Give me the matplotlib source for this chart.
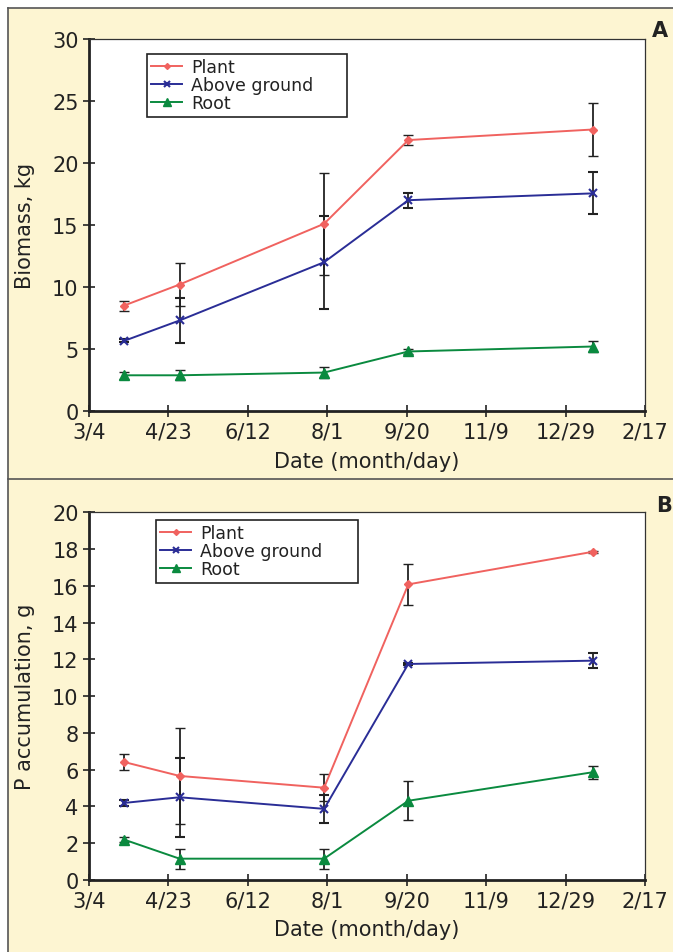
import matplotlib
matplotlib.use("Agg")
import matplotlib.pyplot as plt
from matplotlib.patches import Rectangle
from matplotlib.lines import Line2D

plt.rcParams['font.family'] = ['DejaVu Sans']

# days counted from 3/4
days = [22, 57, 148, 201, 317]
tick_days = [0, 50, 100, 150, 200, 250, 300, 350]
tick_labels = ["3/4", "4/23", "6/12", "8/1", "9/20", "11/9", "12/29", "2/17"]
series = ["Plant", "Above ground", "Root"]

# panel A: biomass, kg
bio_plant = [8.5, 10.2, 15.1, 21.85, 22.7]
bio_plant_err = [0.4, 1.75, 4.1, 0.4, 2.1]
bio_above = [5.65, 7.3, 12.0, 17.0, 17.55]
bio_above_err = [0.12, 1.8, 3.75, 0.6, 1.7]
bio_root = [2.88, 2.88, 3.1, 4.8, 5.2]
bio_root_err = [0.3, 0.42, 0.43, 0.22, 0.43]

# panel B: P accumulation, g
p_plant = [6.42, 5.66, 5.02, 16.08, 17.85]
p_plant_err = [0.45, 2.6, 0.75, 1.1, 0.05]
p_above = [4.19, 4.5, 3.87, 11.75, 11.93]
p_above_err = [0.15, 2.15, 0.75, 0.08, 0.4]
p_root = [2.2, 1.16, 1.16, 4.31, 5.86]
p_root_err = [0.15, 0.55, 0.55, 1.07, 0.35]

colors = ['#f0625f', '#2a2d96', '#0a8a3f']
markers = ['D', 'x', '^']
msizes = [4, 6, 7]
txt = '#222222'

W, H = 673, 953
fig = plt.figure(figsize=(W / 100, H / 100), dpi=100)
fig.patch.set_facecolor('white')

# cream panel background with frame lines
fig.patches.append(Rectangle((8 / W, 0), 1 - 8 / W, (H - 9) / H, transform=fig.transFigure,
                             facecolor='#fdf5d2', edgecolor='none', zorder=-5))
fig.lines.append(Line2D([8 / W, 8 / W], [0, (H - 9) / H], transform=fig.transFigure, color='#555555', lw=1.2, zorder=-4))
fig.lines.append(Line2D([8 / W, 1], [(H - 9) / H, (H - 9) / H], transform=fig.transFigure, color='#555555', lw=1.2, zorder=-4))
fig.lines.append(Line2D([8 / W, 1], [(H - 480) / H, (H - 480) / H], transform=fig.transFigure, color='#555555', lw=1.2, zorder=-4))

axA = fig.add_axes([89 / W, (H - 412) / H, 556 / W, 372 / H])
axB = fig.add_axes([89 / W, (H - 881) / H, 556 / W, 367.7 / H])

panels = [
    (axA, [bio_plant, bio_above, bio_root], [bio_plant_err, bio_above_err, bio_root_err],
     30, 5, "Biomass, kg", (0.104, 0.96, 0.36, 0)),
    (axB, [p_plant, p_above, p_root], [p_plant_err, p_above_err, p_root_err],
     20, 2, "P accumulation, g", (0.12, 0.979, 0.363, 0)),
]

for ax, vals, errs, ymax, ystep, ylab, legbox in panels:
    ax.set_facecolor('white')
    handles = []
    for name, v, e, c, m, ms in zip(series, vals, errs, colors, markers, msizes):
        mew = 1.5 if m == 'x' else 1
        ax.errorbar(days, v, yerr=e, color=c, marker=m, markersize=ms, lw=1.4,
                    ecolor=txt, elinewidth=1.3, capsize=3.3, capthick=1.3,
                    markeredgewidth=mew)
        handles.append(Line2D([], [], color=c, marker=m, markersize=ms - 1, lw=1.4,
                              markeredgewidth=mew, label=name))
    ax.set_xlim(0, 350)
    ax.set_ylim(0, ymax)
    ax.set_xticks(tick_days)
    ax.set_xticklabels(tick_labels)
    ax.set_yticks(range(0, ymax + 1, ystep))
    ax.tick_params(direction='inout', length=9, width=1.2, labelsize=15, colors=txt, pad=3)
    for s in ['left', 'bottom']:
        ax.spines[s].set_linewidth(2)
        ax.spines[s].set_color(txt)
    for s in ['top', 'right']:
        ax.spines[s].set_linewidth(0.9)
        ax.spines[s].set_color('#333333')
    ax.set_ylabel(ylab, fontsize=15, color=txt)
    ax.yaxis.set_label_coords(-0.097, 0.5)
    ax.set_xlabel("Date (month/day)", fontsize=15, color=txt, va='top')
    ax.xaxis.set_label_coords(0.5, -0.107)
    leg = ax.legend(handles=handles, loc='upper left', bbox_to_anchor=legbox, mode='expand',
                    borderaxespad=0, fontsize=12.5, frameon=True, fancybox=False,
                    edgecolor=txt, framealpha=1, labelspacing=0,
                    handlelength=1.8, borderpad=0.25, handletextpad=0.5)
    leg.get_frame().set_linewidth(1.2)
    for t in leg.get_texts():
        t.set_color(txt)

fig.text(660 / W, 1 - 31 / H, "A", fontsize=15, fontweight='bold', ha='center', va='center', color=txt)
fig.text(664 / W, 1 - 506 / H, "B", fontsize=15, fontweight='bold', ha='center', va='center', color=txt)

fig.savefig("out.png", dpi=100, facecolor=fig.get_facecolor())
